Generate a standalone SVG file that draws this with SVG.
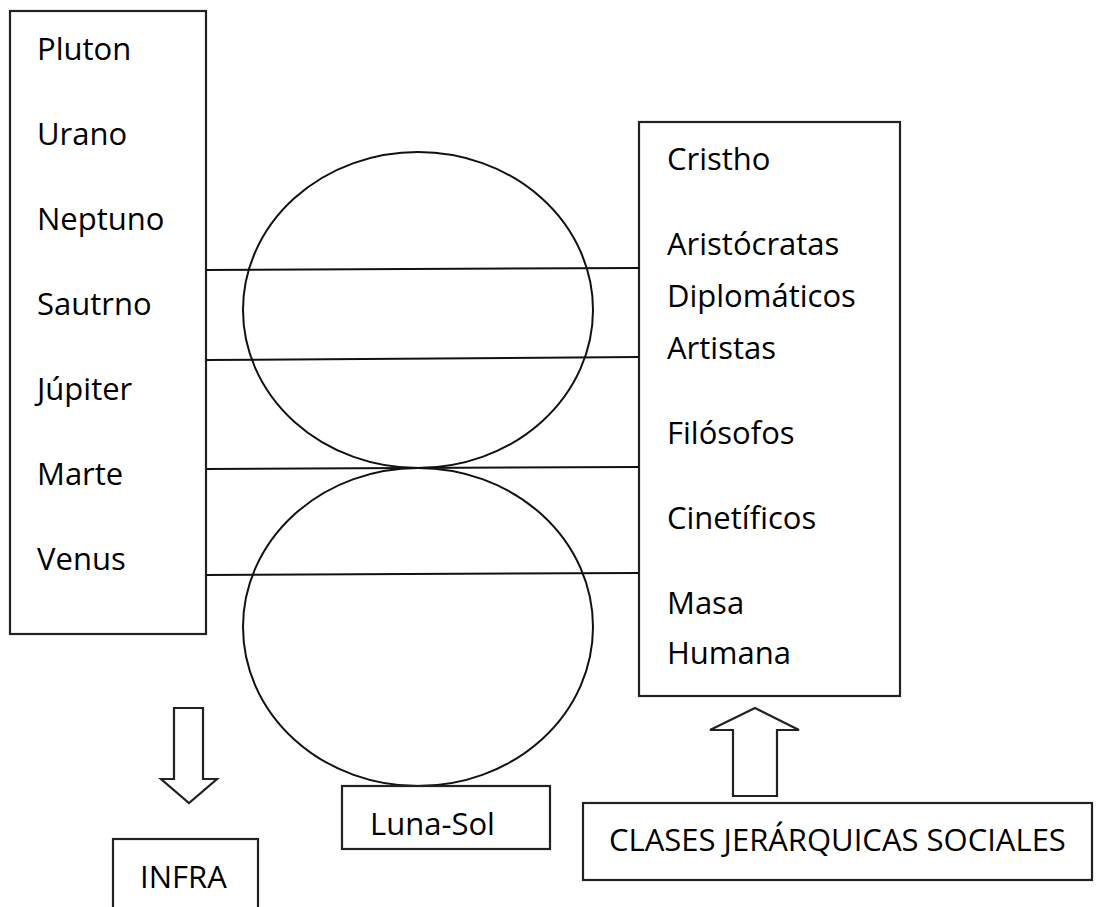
<svg xmlns="http://www.w3.org/2000/svg" width="1110" height="907" viewBox="0 0 1110 907">
<style>
.box{fill:#fff;stroke:#222;stroke-width:2.2}
.shape{fill:none;stroke:#111;stroke-width:2}
.arrow{fill:#fff;stroke:#222;stroke-width:2.2;stroke-linejoin:miter}
.ln{stroke:#111;stroke-width:2;fill:none}
text{font-family:"Open Sans","Liberation Sans",sans-serif;font-size:31px;fill:#000}
</style>
<rect width="1110" height="907" fill="#fff"/>
<g id="planetas">
<rect class="box" x="10" y="11" width="196" height="623"/>
<text x="37" y="60">Pluton</text>
<text x="37" y="145">Urano</text>
<text x="37" y="230">Neptuno</text>
<text x="37" y="315">Sautrno</text>
<text x="37" y="400">Júpiter</text>
<text x="37" y="485">Marte</text>
<text x="37" y="570">Venus</text>
</g>
<g id="clases">
<rect class="box" x="639" y="122" width="261" height="574"/>
<text x="667" y="170">Cristho</text>
<text x="667" y="255">Aristócratas</text>
<text x="667" y="307">Diplomáticos</text>
<text x="667" y="359">Artistas</text>
<text x="667" y="444">Filósofos</text>
<text x="667" y="529">Cinetíficos</text>
<text x="667" y="614">Masa</text>
<text x="667" y="664">Humana</text>
</g>
<g id="circulo-superior">
<ellipse class="shape" cx="418" cy="310" rx="175" ry="158"/>
</g>
<g id="circulo-inferior">
<ellipse class="shape" cx="418" cy="627" rx="175" ry="159"/>
</g>
<g id="connectors">
<line class="ln" x1="206" y1="270" x2="639" y2="268"/>
<line class="ln" x1="206" y1="360" x2="639" y2="357"/>
<line class="ln" x1="206" y1="469" x2="639" y2="467"/>
<line class="ln" x1="206" y1="575" x2="639" y2="573"/>
<polygon class="arrow" points="174,708 203,708 203,779 217,779 189,803 161,779 174,779"/>
<polygon class="arrow" points="755,708 799,730 777,730 777,796 733,796 733,730 710,730"/>
</g>
<g id="luna-sol">
<rect class="box" x="342" y="786" width="208" height="63"/>
<text x="370" y="835">Luna-Sol</text>
</g>
<g id="infra">
<rect class="box" x="113" y="839" width="145" height="90"/>
<text x="140" y="888">INFRA</text>
</g>
<g id="clases-jerarquicas">
<rect class="box" x="583" y="803" width="509" height="77"/>
<text x="609" y="851">CLASES JERÁRQUICAS SOCIALES</text>
</g>
</svg>
